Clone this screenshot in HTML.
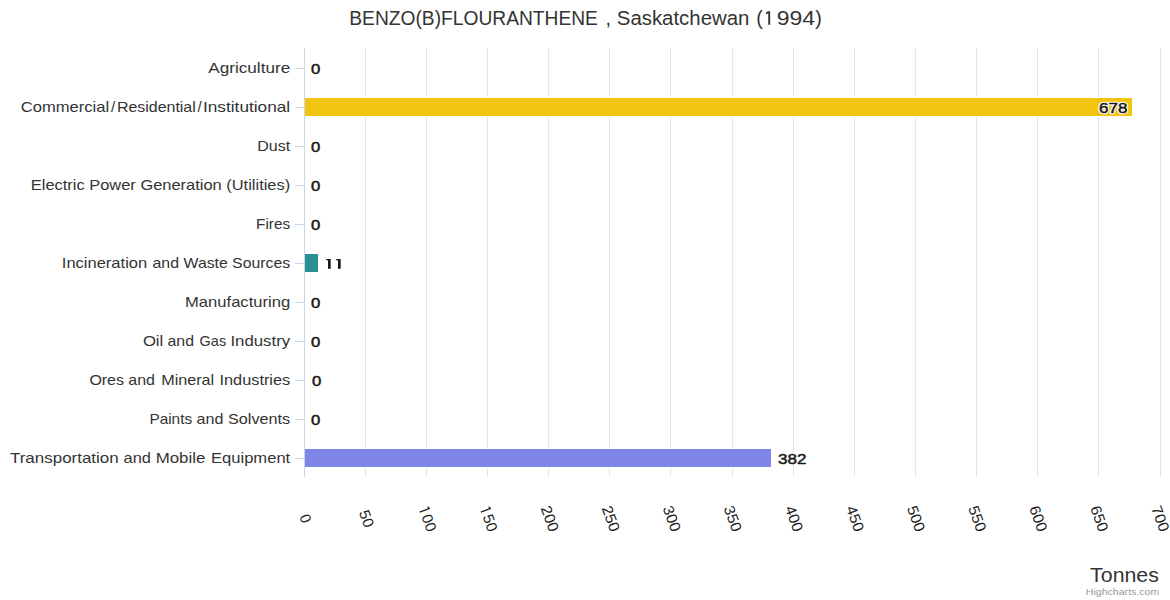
<!DOCTYPE html>
<html><head><meta charset="utf-8"><title>chart</title>
<style>html,body{margin:0;padding:0;background:#fff;overflow:hidden}svg{display:block}text{font-family:"Liberation Sans",sans-serif}</style>
</head><body>
<svg width="1170" height="600" viewBox="0 0 1170 600">
<rect x="0" y="0" width="1170" height="600" fill="#ffffff"/>
<g shape-rendering="crispEdges" fill="#E6E6E6">
<rect x="365" y="48" width="1" height="429"/>
<rect x="426" y="48" width="1" height="429"/>
<rect x="487" y="48" width="1" height="429"/>
<rect x="548" y="48" width="1" height="429"/>
<rect x="609" y="48" width="1" height="429"/>
<rect x="670" y="48" width="1" height="429"/>
<rect x="732" y="48" width="1" height="429"/>
<rect x="793" y="48" width="1" height="429"/>
<rect x="854" y="48" width="1" height="429"/>
<rect x="915" y="48" width="1" height="429"/>
<rect x="976" y="48" width="1" height="429"/>
<rect x="1037" y="48" width="1" height="429"/>
<rect x="1098" y="48" width="1" height="429"/>
<rect x="1160" y="48" width="1" height="429"/>
</g>
<g shape-rendering="crispEdges" fill="#CCD6EB">
<rect x="304" y="48" width="1" height="429"/>
<rect x="295" y="68" width="10" height="1"/>
<rect x="295" y="107" width="10" height="1"/>
<rect x="295" y="146" width="10" height="1"/>
<rect x="295" y="185" width="10" height="1"/>
<rect x="295" y="224" width="10" height="1"/>
<rect x="295" y="263" width="10" height="1"/>
<rect x="295" y="302" width="10" height="1"/>
<rect x="295" y="341" width="10" height="1"/>
<rect x="295" y="380" width="10" height="1"/>
<rect x="295" y="419" width="10" height="1"/>
<rect x="295" y="458" width="10" height="1"/>
</g>
<g shape-rendering="crispEdges">
<rect x="305" y="97" width="828" height="20" fill="#ffffff"/>
<rect x="305" y="98" width="827" height="18" fill="#F1C40F"/>
<rect x="305" y="253" width="14" height="20" fill="#ffffff"/>
<rect x="305" y="254" width="13" height="18" fill="#2B908F"/>
<rect x="305" y="448" width="467" height="20" fill="#ffffff"/>
<rect x="305" y="449" width="466" height="18" fill="#8085E9"/>
</g>
<g fill="#333333" font-size="19.7px">
<text x="349.3" y="24.7" textLength="248.6" lengthAdjust="spacingAndGlyphs">BENZO(B)FLOURANTHENE</text>
<text x="605.6" y="24.7">,</text>
<text x="616.8" y="24.7" textLength="132.6" lengthAdjust="spacingAndGlyphs">Saskatchewan</text>
<text x="756.2" y="24.7">(</text>
<path d="M770.15,24.70 L770.15,11.20 L768.25,11.20 L765.95,12.35 L765.95,14.15 L768.25,13.27 L768.25,24.70 Z"/>
<text x="776.7" y="24.7" textLength="38.4" lengthAdjust="spacingAndGlyphs">994</text>
<text x="815.2" y="24.7">)</text>
</g>
<g fill="#333333" font-size="15px">
<text x="208.3" y="73" textLength="81.9" lengthAdjust="spacingAndGlyphs">Agriculture</text>
<text x="20.7" y="112" textLength="88.5" lengthAdjust="spacingAndGlyphs">Commercial</text>
<text x="113.0" y="112" text-anchor="middle">/</text>
<text x="116.9" y="112" textLength="78.9" lengthAdjust="spacingAndGlyphs">Residential</text>
<text x="199.6" y="112" text-anchor="middle">/</text>
<text x="203.0" y="112" textLength="87.2" lengthAdjust="spacingAndGlyphs">Institutional</text>
<text x="257.3" y="151" textLength="32.9" lengthAdjust="spacingAndGlyphs">Dust</text>
<text x="30.8" y="190" textLength="259.4" lengthAdjust="spacingAndGlyphs">Electric Power Generation (Utilities)</text>
<text x="256.0" y="229" textLength="34.2" lengthAdjust="spacingAndGlyphs">Fires</text>
<text x="61.8" y="268" textLength="85.4" lengthAdjust="spacingAndGlyphs">Incineration</text>
<text x="152.5" y="268" textLength="26.5" lengthAdjust="spacingAndGlyphs">and</text>
<text x="183.6" y="268" textLength="44.2" lengthAdjust="spacingAndGlyphs">Waste</text>
<text x="232.1" y="268" textLength="58.1" lengthAdjust="spacingAndGlyphs">Sources</text>
<text x="185.0" y="307" textLength="105.2" lengthAdjust="spacingAndGlyphs">Manufacturing</text>
<text x="142.9" y="346" textLength="20.4" lengthAdjust="spacingAndGlyphs">Oil</text>
<text x="167.5" y="346" textLength="26.5" lengthAdjust="spacingAndGlyphs">and</text>
<text x="199.6" y="346" textLength="26.6" lengthAdjust="spacingAndGlyphs">Gas</text>
<text x="230.4" y="346" textLength="59.8" lengthAdjust="spacingAndGlyphs">Industry</text>
<text x="89.4" y="385" textLength="34.6" lengthAdjust="spacingAndGlyphs">Ores</text>
<text x="128.3" y="385" textLength="26.7" lengthAdjust="spacingAndGlyphs">and</text>
<text x="161.2" y="385" textLength="53.0" lengthAdjust="spacingAndGlyphs">Mineral</text>
<text x="219.5" y="385" textLength="70.7" lengthAdjust="spacingAndGlyphs">Industries</text>
<text x="149.4" y="424" textLength="42.7" lengthAdjust="spacingAndGlyphs">Paints</text>
<text x="196.6" y="424" textLength="26.9" lengthAdjust="spacingAndGlyphs">and</text>
<text x="228.0" y="424" textLength="62.2" lengthAdjust="spacingAndGlyphs">Solvents</text>
<text x="10.0" y="463" textLength="108.7" lengthAdjust="spacingAndGlyphs">Transportation</text>
<text x="123.5" y="463" textLength="27.4" lengthAdjust="spacingAndGlyphs">and</text>
<text x="155.7" y="463" textLength="49.7" lengthAdjust="spacingAndGlyphs">Mobile</text>
<text x="211.0" y="463" textLength="79.2" lengthAdjust="spacingAndGlyphs">Equipment</text>
</g>
<g fill="#1a1a1a" stroke="#1a1a1a" stroke-width="0.5" font-size="14px">
<text x="310.9" y="74" textLength="9.3" lengthAdjust="spacingAndGlyphs">0</text>
<text x="1099" y="113" textLength="28.4" lengthAdjust="spacingAndGlyphs" stroke="#ffffff" stroke-width="2.6" stroke-linejoin="round">678</text>
<text x="1099" y="113" textLength="28.4" lengthAdjust="spacingAndGlyphs">678</text>
<text x="310.9" y="152" textLength="9.3" lengthAdjust="spacingAndGlyphs">0</text>
<text x="310.9" y="191" textLength="9.3" lengthAdjust="spacingAndGlyphs">0</text>
<text x="310.9" y="230" textLength="9.3" lengthAdjust="spacingAndGlyphs">0</text>
<rect x="328" y="259" width="2.7" height="9.8" stroke="none"/>
<rect x="326.2" y="259" width="2" height="1.3" stroke="none"/>
<rect x="338" y="259" width="2.7" height="9.8" stroke="none"/>
<rect x="336.2" y="259" width="2" height="1.3" stroke="none"/>
<text x="310.9" y="308" textLength="9.3" lengthAdjust="spacingAndGlyphs">0</text>
<text x="310.9" y="347" textLength="9.3" lengthAdjust="spacingAndGlyphs">0</text>
<text x="311.9" y="386" textLength="9.3" lengthAdjust="spacingAndGlyphs">0</text>
<text x="310.9" y="425" textLength="9.3" lengthAdjust="spacingAndGlyphs">0</text>
<text x="778" y="464" textLength="28.4" lengthAdjust="spacingAndGlyphs" stroke="#ffffff" stroke-width="2.6" stroke-linejoin="round">382</text>
<text x="778" y="464" textLength="28.4" lengthAdjust="spacingAndGlyphs">382</text>
</g>
<g fill="#222222" font-size="15px">
<g transform="translate(305.6,518.6) rotate(70)">
<text x="-4.05" y="5.3" textLength="8.1" lengthAdjust="spacingAndGlyphs">0</text>
</g>
<g transform="translate(366.7,518.6) rotate(70)">
<text x="-8.60" y="5.3" textLength="17.2" lengthAdjust="spacingAndGlyphs">50</text>
</g>
<g transform="translate(427.7,518.6) rotate(70)">
<path d="M-8.15,5.30 L-8.15,-5.40 L-9.45,-5.40 L-11.15,-4.49 L-11.15,-3.26 L-9.45,-3.95 L-9.45,5.30 Z"/>
<text x="-4.05" y="5.3" textLength="17.2" lengthAdjust="spacingAndGlyphs">00</text>
</g>
<g transform="translate(488.8,518.6) rotate(70)">
<path d="M-8.15,5.30 L-8.15,-5.40 L-9.45,-5.40 L-11.15,-4.49 L-11.15,-3.26 L-9.45,-3.95 L-9.45,5.30 Z"/>
<text x="-4.05" y="5.3" textLength="17.2" lengthAdjust="spacingAndGlyphs">50</text>
</g>
<g transform="translate(549.9,518.6) rotate(70)">
<text x="-13.15" y="5.3" textLength="26.3" lengthAdjust="spacingAndGlyphs">200</text>
</g>
<g transform="translate(611.0,518.6) rotate(70)">
<text x="-13.15" y="5.3" textLength="26.3" lengthAdjust="spacingAndGlyphs">250</text>
</g>
<g transform="translate(672.0,518.6) rotate(70)">
<text x="-13.15" y="5.3" textLength="26.3" lengthAdjust="spacingAndGlyphs">300</text>
</g>
<g transform="translate(733.1,518.6) rotate(70)">
<text x="-13.15" y="5.3" textLength="26.3" lengthAdjust="spacingAndGlyphs">350</text>
</g>
<g transform="translate(794.2,518.6) rotate(70)">
<text x="-13.15" y="5.3" textLength="26.3" lengthAdjust="spacingAndGlyphs">400</text>
</g>
<g transform="translate(855.2,518.6) rotate(70)">
<text x="-13.15" y="5.3" textLength="26.3" lengthAdjust="spacingAndGlyphs">450</text>
</g>
<g transform="translate(916.3,518.6) rotate(70)">
<text x="-13.15" y="5.3" textLength="26.3" lengthAdjust="spacingAndGlyphs">500</text>
</g>
<g transform="translate(977.4,518.6) rotate(70)">
<text x="-13.15" y="5.3" textLength="26.3" lengthAdjust="spacingAndGlyphs">550</text>
</g>
<g transform="translate(1038.5,518.6) rotate(70)">
<text x="-13.15" y="5.3" textLength="26.3" lengthAdjust="spacingAndGlyphs">600</text>
</g>
<g transform="translate(1099.5,518.6) rotate(70)">
<text x="-13.15" y="5.3" textLength="26.3" lengthAdjust="spacingAndGlyphs">650</text>
</g>
<g transform="translate(1160.6,518.6) rotate(70)">
<text x="-13.15" y="5.3" textLength="26.3" lengthAdjust="spacingAndGlyphs">700</text>
</g>
</g>
<text x="1090.1" y="581.9" font-size="20.5px" fill="#333333" textLength="68.8" lengthAdjust="spacingAndGlyphs">Tonnes</text>
<text x="1085.8" y="594.7" font-size="9.5px" fill="#999999" textLength="73.5" lengthAdjust="spacingAndGlyphs">Highcharts.com</text>
</svg>
</body></html>
